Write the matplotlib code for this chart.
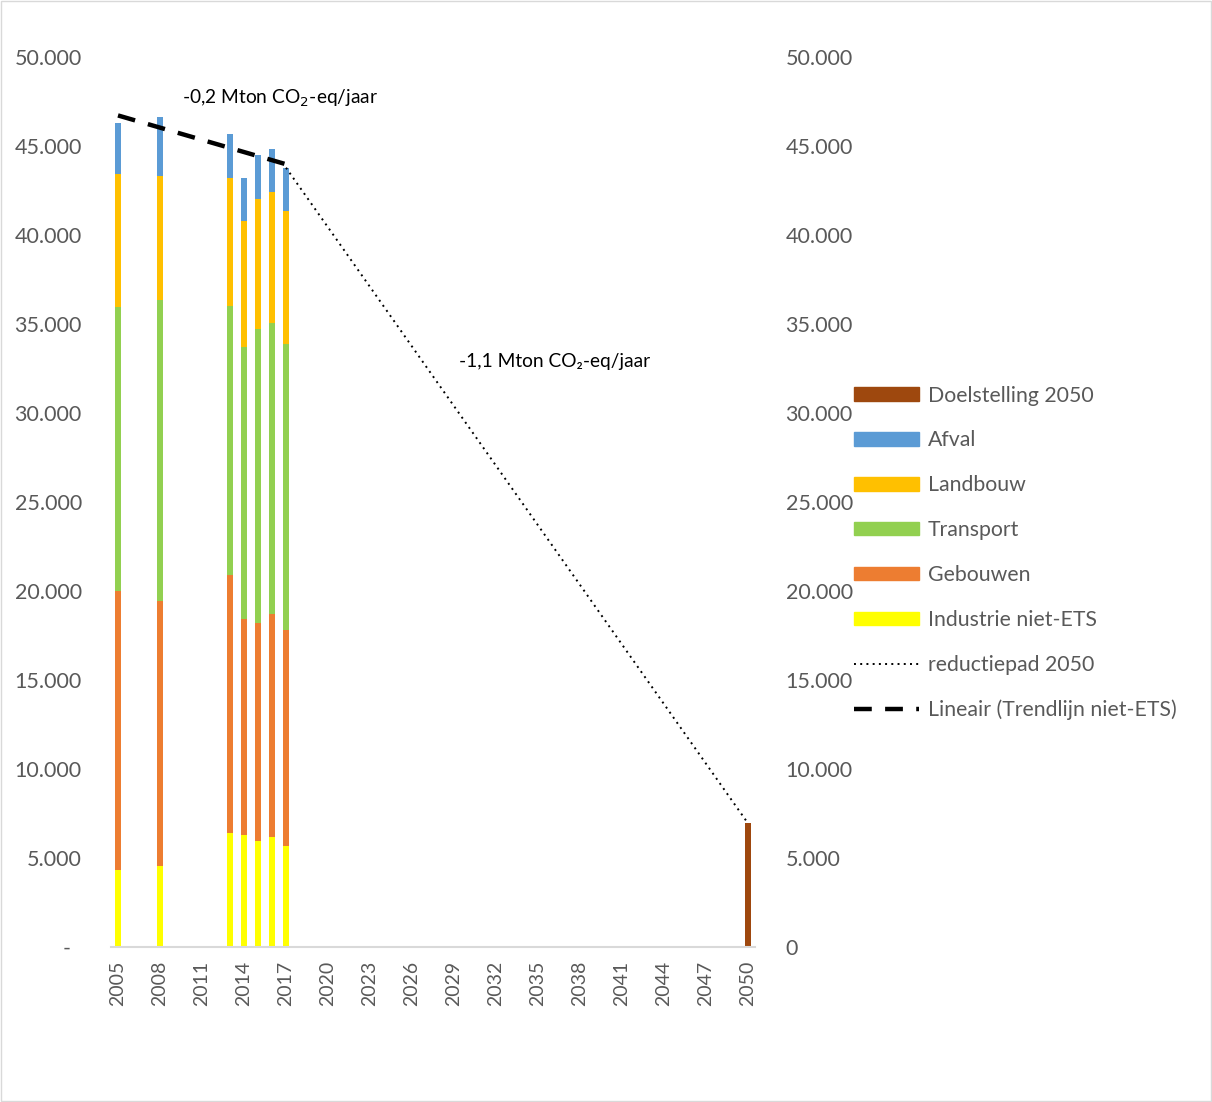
import matplotlib
matplotlib.use("Agg")
import matplotlib.pyplot as plt
from matplotlib.patches import Patch
from matplotlib.lines import Line2D
from matplotlib.ticker import FuncFormatter
import numpy as np

plt.rcParams['font.family'] = ['Lato', 'DejaVu Sans']

# emissies niet-ETS (kton CO2-eq)
jaren = [2005, 2008, 2013, 2014, 2015, 2016, 2017]
industrie = [4300, 4550, 6400, 6290, 5940, 6160, 5660]
gebouwen = [15700, 14870, 14480, 12120, 12280, 12560, 12170]
transport = [15950, 16950, 15150, 15310, 16500, 16320, 16030]
landbouw = [7460, 6930, 7150, 7050, 7320, 7380, 7490]
afval = [2900, 3330, 2510, 2410, 2450, 2410, 2430]
doel_jaar = 2050
doelstelling = 6950

series = [
    ('Industrie niet-ETS', industrie, '#FFFF00'),
    ('Gebouwen', gebouwen, '#ED7D31'),
    ('Transport', transport, '#92D050'),
    ('Landbouw', landbouw, '#FFC000'),
    ('Afval', afval, '#5B9BD5'),
]
bruin = '#9E480E'
grijs = '#595959'

fig = plt.figure(figsize=(12.12, 11.02), dpi=100)
ax = fig.add_axes([111 / 1212, 1 - 947 / 1102, (755 - 111) / 1212, (947 - 57) / 1102])

bodem = np.zeros(len(jaren))
for naam, waarden, kleur in series:
    ax.bar(jaren, waarden, width=0.42, bottom=bodem, color=kleur, label=naam)
    bodem += np.array(waarden)
ax.bar([doel_jaar], [doelstelling], width=0.42, color=bruin, label='Doelstelling 2050')

totaal = bodem
# trendlijn
coef = np.polyfit(jaren, totaal, 1)
tx = np.array([jaren[0], jaren[-1]])
ax.plot(tx, np.polyval(coef, tx), color='black', lw=3.2, ls=(0, (4, 3)))
# reductiepad
ax.plot([jaren[-1], doel_jaar], [totaal[-1], doelstelling], color='black', lw=1.4, ls=(0, (1, 2.2)))

ax.text(2009.6, 47700, '-0,2 Mton CO$_2$-eq/jaar', fontsize=13.8, va='center', color='black')
ax.text(2029.35, 32900, '-1,1 Mton CO\u2082-eq/jaar', fontsize=13.8, va='center', color='black')

ax.set_xlim(2004.5, 2050.5)
ax.set_ylim(0, 50000)
ax.set_xticks(range(2005, 2051, 3))
ax.tick_params(axis='x', length=0, pad=10, labelrotation=90, labelsize=14, labelcolor=grijs)
ax.set_yticks(range(0, 50001, 5000))


def links(v, pos):
    if v == 0:
        return '-  '
    return f'{int(v):,}'.replace(',', '.')


def rechts(v, pos):
    if v == 0:
        return '0'
    return f'{int(v):,}'.replace(',', '.')


ax.yaxis.set_major_formatter(FuncFormatter(links))
ax.tick_params(axis='y', length=0, pad=21, labelsize=15.5, labelcolor=grijs)
for s in ['top', 'right', 'left']:
    ax.spines[s].set_visible(False)
ax.spines['bottom'].set_color('#D9D9D9')
ax.spines['bottom'].set_linewidth(1.5)

ax2 = ax.twinx()
ax2.set_ylim(0, 50000)
ax2.set_yticks(range(0, 50001, 5000))
ax2.yaxis.set_major_formatter(FuncFormatter(rechts))
ax2.tick_params(axis='y', length=0, pad=22, labelsize=15.5, labelcolor=grijs)
for s in ax2.spines.values():
    s.set_visible(False)

handles = [Patch(color=bruin, label='Doelstelling 2050')]
for naam, waarden, kleur in reversed(series):
    handles.append(Patch(color=kleur, label=naam))
handles.append(Line2D([], [], color='black', lw=1.4, ls=(0, (1, 2.2)), label='reductiepad 2050'))
handles.append(Line2D([], [], color='black', lw=3.2, ls=(0, (4, 3)), label='Lineair (Trendlijn niet-ETS)'))

leg = fig.legend(handles=handles, loc='upper left', bbox_to_anchor=(843 / 1212, 1 - 375 / 1102),
                 frameon=False, fontsize=15.3, handlelength=3.1, handleheight=0.6,
                 labelspacing=1.17, handletextpad=0.4, borderpad=0)
for t in leg.get_texts():
    t.set_color(grijs)

# rand rond de figuur
fig.patches.append(plt.Rectangle((0.001, 0.001), 0.998, 0.998, transform=fig.transFigure,
                                 fill=False, edgecolor='#D9D9D9', lw=1))

fig.savefig('out.png', dpi=100)
